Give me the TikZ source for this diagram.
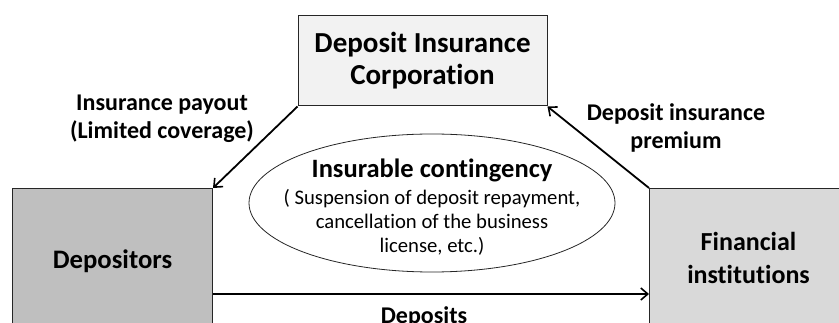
\documentclass[tikz,border=0pt]{standalone}
\usepackage{fontspec}
\setmainfont{Carlito}[Ligatures=NoCommon]
\usetikzlibrary{arrows.meta,shapes.geometric}
\definecolor{dicfill}{HTML}{F2F2F2}
\definecolor{depfill}{HTML}{BFBFBF}
\definecolor{finfill}{HTML}{D9D9D9}
\begin{document}
\begin{tikzpicture}[x=1pt,y=-1pt,
  boxstyle/.style={draw=black!85,line width=1pt,inner sep=0pt,align=center},
  flow/.style={line width=1.8pt,-{Straight Barb[length=7pt,width=12pt,line width=1.6pt]}},
  lbl/.style={align=center,inner sep=0pt,font=\fontsize{24}{28}\selectfont\bfseries}]
\useasboundingbox (0,0) rectangle (839,323);
\clip (0,0) rectangle (839,323);
\node[boxstyle,fill=dicfill,minimum width=249pt,minimum height=90pt,
  font=\fontsize{29}{32}\selectfont\bfseries] (dic) at (422.5,61) {Deposit Insurance\\Corporation};
\node[boxstyle,fill=depfill,minimum width=200pt,minimum height=146pt,anchor=north west,
  font=\fontsize{26.7}{30}\selectfont\bfseries] (dep) at (12,188) {Depositors};
\node[boxstyle,fill=finfill,minimum width=198pt,minimum height=138pt,anchor=north west,
  font=\fontsize{26}{33}\selectfont\bfseries] (fin) at (649,188) {Financial\\institutions};
\node[draw=black!85,line width=0.8pt,ellipse,minimum width=366pt,minimum height=138pt,inner sep=0pt] (ell) at (432,203) {};
\node[align=center,inner sep=0pt,font=\fontsize{20.7}{24}\selectfont] (cont) at (432,207)
  {{\fontsize{26.5}{27}\selectfont\bfseries Insurable contingency}\\[3pt]
  ( Suspension of deposit repayment,\\
  cancellation of the business\\
  license, etc.)};
\draw[flow] (dic.south west) -- (dep.north east);
\draw[flow] (fin.north west) -- (dic.south east);
\coordinate (depin) at (dep.east |- 0,294);
\coordinate (finin) at (fin.west |- 0,294);
\draw[flow] (depin) -- (finin);
\node[lbl] (lpay) at (162,119) {Insurance payout\\(Limited coverage)};
\node[lbl] (lprem) at (676,128) {Deposit insurance\\premium};
\node[lbl,anchor=base] (ldep) at (424,323.5) {Deposits};
\end{tikzpicture}
\end{document}
